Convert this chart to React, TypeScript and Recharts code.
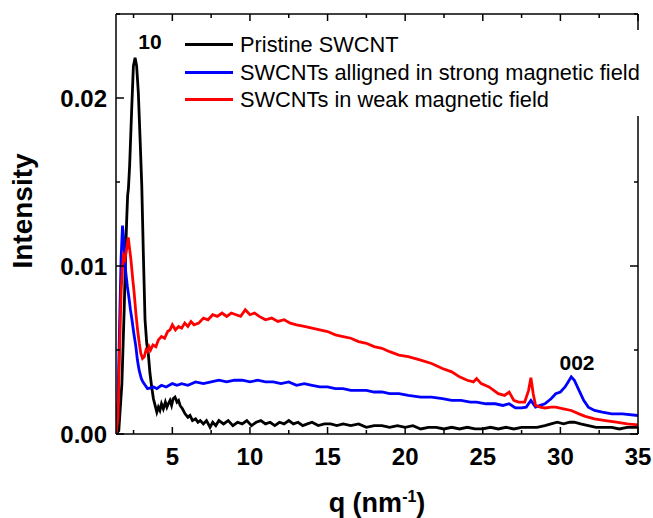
import React from 'react';
import { LineChart, Line, XAxis, YAxis, Legend, ReferenceDot, Label } from 'recharts';

const pristineQ = [1.37, 1.55, 1.75, 1.9, 2.0, 2.06, 2.12, 2.17, 2.25, 2.38, 2.49, 2.6, 2.7, 2.81, 2.92, 3.03, 3.13, 3.24, 3.35, 3.45, 3.56, 3.67, 3.78, 3.89, 4.0, 4.1, 4.2, 4.3, 4.42, 4.55, 4.65, 4.74, 4.85, 4.95, 5.05, 5.17, 5.3, 5.4, 5.5, 5.65, 5.82, 6.0, 6.14, 6.3, 6.5, 6.65, 6.8, 7.0, 7.2, 7.43, 7.6, 7.8, 8.0, 8.3, 8.6, 8.9, 9.2, 9.5, 9.8, 10.1, 10.4, 10.7, 11.0, 11.3, 11.6, 11.9, 12.2, 12.5, 12.8, 13.1, 13.4, 13.7, 14.0, 14.4, 14.8, 15.2, 15.6, 16.0, 16.5, 17.0, 17.5, 18.0, 18.5, 19.0, 19.5, 20.0, 20.5, 21.0, 21.5, 22.0, 22.5, 23.0, 23.5, 24.0, 24.5, 25.0, 25.5, 26.0, 26.5, 27.0, 27.5, 28.0, 28.5, 29.0, 29.4, 29.8, 30.2, 30.6, 30.9, 31.3, 31.8, 32.3, 32.8, 33.3, 33.8, 34.3, 35.0];
const pristineI = [0.0, 0.0002, 0.003, 0.0075, 0.011, 0.0128, 0.0142, 0.0146, 0.016, 0.0193, 0.0219, 0.0224, 0.0219, 0.0203, 0.0176, 0.0148, 0.0108, 0.0068, 0.0054, 0.0048, 0.0036, 0.0028, 0.0021, 0.0017, 0.0013, 0.0016, 0.0014, 0.0018, 0.0015, 0.0019, 0.0016, 0.0018, 0.002, 0.0017, 0.0021, 0.0022, 0.0019, 0.002, 0.0017, 0.0015, 0.0012, 0.001, 0.0011, 0.0008, 0.0009, 0.0007, 0.0008, 0.0006, 0.0008, 0.0004, 0.0007, 0.0005, 0.0008, 0.0006, 0.0008, 0.0005, 0.0007, 0.0006, 0.0008, 0.0005, 0.0007, 0.0008, 0.0006, 0.0007, 0.0005, 0.0007, 0.0006, 0.0008, 0.0006, 0.0007, 0.0005, 0.0006, 0.0007, 0.0005, 0.0006, 0.0006, 0.0005, 0.0006, 0.0005, 0.0006, 0.0004, 0.0005, 0.0005, 0.0004, 0.0005, 0.0004, 0.0005, 0.0003, 0.0004, 0.0004, 0.0003, 0.0004, 0.0003, 0.0004, 0.0003, 0.0003, 0.0004, 0.0003, 0.0004, 0.0003, 0.0004, 0.0004, 0.0004, 0.0005, 0.0006, 0.0007, 0.0006, 0.0007, 0.0007, 0.0006, 0.0005, 0.0004, 0.0004, 0.0004, 0.0003, 0.0004, 0.0004];

const strongQ = [1.37, 1.5, 1.6, 1.7, 1.79, 1.85, 1.92, 2.0, 2.1, 2.22, 2.3, 2.4, 2.5, 2.65, 2.75, 2.86, 3.0, 3.1, 3.25, 3.4, 3.6, 3.8, 4.0, 4.3, 4.6, 5.0, 5.3, 5.6, 6.0, 6.5, 7.0, 7.5, 8.0, 8.5, 9.0, 9.5, 10.0, 10.5, 11.0, 11.5, 12.0, 12.5, 13.0, 13.5, 14.0, 14.5, 15.0, 15.5, 16.0, 16.5, 17.0, 17.5, 18.0, 18.5, 19.0, 19.6, 20.2, 21.0, 21.7, 22.4, 23.0, 23.6, 24.2, 24.6, 25.2, 25.8, 26.3, 26.7, 27.1, 27.5, 27.8, 28.1, 28.4, 28.7, 29.0, 29.4, 29.7, 30.0, 30.3, 30.5, 30.7, 30.9, 31.2, 31.5, 31.8, 32.2, 32.7, 33.3, 34.0, 35.0];
const strongI = [0.0, 0.002, 0.0065, 0.0105, 0.0124, 0.0118, 0.0108, 0.0096, 0.0088, 0.008, 0.0074, 0.0068, 0.0061, 0.0052, 0.0044, 0.0038, 0.0033, 0.0031, 0.0029, 0.0027, 0.00275, 0.0028, 0.0027, 0.0029, 0.0028, 0.003, 0.0029, 0.003, 0.0029, 0.0031, 0.003, 0.0031, 0.0032, 0.0031, 0.0032, 0.0032, 0.0031, 0.0032, 0.0031, 0.0031, 0.003, 0.0031, 0.0029, 0.003, 0.0029, 0.0028, 0.0028, 0.0027, 0.0027, 0.0026, 0.0026, 0.0026, 0.0025, 0.0025, 0.0024, 0.0024, 0.0023, 0.0022, 0.0022, 0.0021, 0.002, 0.002, 0.0019, 0.0019, 0.0018, 0.0018, 0.0017, 0.0018, 0.00155, 0.00155, 0.0016, 0.002, 0.0016, 0.0017, 0.0018, 0.0021, 0.0024, 0.0025, 0.0028, 0.0031, 0.0034, 0.0032, 0.0026, 0.002, 0.0016, 0.0014, 0.0013, 0.0012, 0.0012, 0.0011];

const weakQ = [1.37, 1.5, 1.6, 1.7, 1.78, 1.85, 1.95, 2.05, 2.16, 2.25, 2.33, 2.45, 2.54, 2.65, 2.76, 2.87, 2.97, 3.08, 3.19, 3.3, 3.4, 3.5, 3.6, 3.75, 3.94, 4.1, 4.3, 4.5, 4.7, 4.85, 5.0, 5.2, 5.4, 5.6, 5.8, 6.0, 6.2, 6.4, 6.7, 7.0, 7.3, 7.6, 7.9, 8.2, 8.5, 8.8, 9.1, 9.4, 9.7, 10.0, 10.3, 10.6, 11.0, 11.4, 11.8, 12.2, 12.6, 13.0, 13.5, 14.0, 14.5, 15.0, 15.5, 16.0, 16.5, 17.0, 17.5, 18.0, 18.5, 19.0, 19.6, 20.2, 21.0, 21.7, 22.4, 23.0, 23.5, 24.0, 24.4, 24.6, 24.9, 25.4, 26.0, 26.4, 26.7, 27.0, 27.3, 27.7, 27.95, 28.1, 28.25, 28.4, 28.7, 29.0, 29.4, 29.7, 30.2, 30.7, 31.2, 31.6, 32.2, 32.9, 33.6, 34.3, 35.0];
const weakI = [0.0, 0.001, 0.005, 0.0085, 0.0098, 0.0106, 0.0104, 0.011, 0.0117, 0.011, 0.0104, 0.0092, 0.0084, 0.0072, 0.0062, 0.0054, 0.0048, 0.0045, 0.0046, 0.005, 0.0049, 0.0052, 0.005, 0.0053, 0.0052, 0.0056, 0.0058, 0.0057, 0.0061, 0.0062, 0.0065, 0.0062, 0.0064, 0.0063, 0.0066, 0.0064, 0.0067, 0.0065, 0.0066, 0.0069, 0.0068, 0.0071, 0.007, 0.0072, 0.007, 0.0072, 0.0071, 0.007, 0.0074, 0.0071, 0.0072, 0.007, 0.0068, 0.0069, 0.0067, 0.0068, 0.0066, 0.0065, 0.0064, 0.0063, 0.0062, 0.0061, 0.0059, 0.0058, 0.0057, 0.0055, 0.0054, 0.0052, 0.0051, 0.0049, 0.0047, 0.0046, 0.0044, 0.0042, 0.0039, 0.0037, 0.0034, 0.0032, 0.0031, 0.0033, 0.003, 0.0028, 0.0024, 0.0023, 0.0025, 0.002, 0.0019, 0.0019, 0.0026, 0.00335, 0.0024, 0.0017, 0.0016, 0.00155, 0.0016, 0.0016, 0.0015, 0.0014, 0.0012, 0.00105, 0.0009, 0.0008, 0.0007, 0.0006, 0.00054];

const seriesNames = ['Pristine SWCNT', 'SWCNTs alligned in strong magnetic field', 'SWCNTs in weak magnetic field'];
const seriesColors = ['#000000', '#0000ff', '#ff0000'];

const xTicks = [2.5, 5, 7.5, 10, 12.5, 15, 17.5, 20, 22.5, 25, 27.5, 30, 32.5, 35];
const yTicks = [0, 0.005, 0.01, 0.015, 0.02, 0.025];
const xDomain = [1.37, 35];
const yDomain = [0, 0.025];

const peakLabels = [
  { q: 3.56, i: 0.02336, text: '10' },
  { q: 31.07, i: 0.00426, text: '002' },
];

const zip = (qs: number[], is: number[]) => qs.map((q, k) => ({ q, i: is[k] }));
const seriesData = [zip(pristineQ, pristineI), zip(strongQ, strongI), zip(weakQ, weakI)];

const FONT = "Arial, 'Liberation Sans', sans-serif";

const isMajorX = (v: number) => Math.abs(v / 5 - Math.round(v / 5)) < 1e-6;
const isMajorY = (v: number) => Math.abs(v / 0.01 - Math.round(v / 0.01)) < 1e-6;

const BottomTick = (props: any) => {
  const { x, y, payload } = props;
  const major = isMajorX(payload.value);
  return (
    <g>
      <line x1={x} x2={x} y1={y} y2={y - (major ? 7 : 4)} stroke="#000" strokeWidth={1.5} />
      {major && (
        <text x={x} y={y + 31} textAnchor="middle" fontFamily={FONT} fontWeight="bold" fontSize={24} fill="#000">
          {payload.value}
        </text>
      )}
    </g>
  );
};

const TopTick = (props: any) => {
  const { x, y, payload } = props;
  const major = isMajorX(payload.value);
  return <line x1={x} x2={x} y1={y} y2={y + (major ? 7 : 4)} stroke="#000" strokeWidth={1.5} />;
};

const LeftTick = (props: any) => {
  const { x, y, payload } = props;
  const major = isMajorY(payload.value);
  return (
    <g>
      <line x1={x} x2={x + (major ? 8 : 4)} y1={y} y2={y} stroke="#000" strokeWidth={1.5} />
      {major && (
        <text x={x - 9} y={y + 8.5} textAnchor="end" fontFamily={FONT} fontWeight="bold" fontSize={24} fill="#000">
          {payload.value.toFixed(2)}
        </text>
      )}
    </g>
  );
};

const RightTick = (props: any) => {
  const { x, y, payload } = props;
  const major = isMajorY(payload.value);
  return <line x1={x} x2={x - (major ? 8 : 4)} y1={y} y2={y} stroke="#000" strokeWidth={1.5} />;
};

const XTitle = (props: any) => {
  const vb = props.viewBox;
  return (
    <text x={vb.x + vb.width / 2} y={vb.y + 78} textAnchor="middle" fontFamily={FONT} fontWeight="bold" fontSize={27} fill="#000">
      q (nm
      <tspan fontSize={16} dy={-10}>-1</tspan>
      <tspan dy={10}>)</tspan>
    </text>
  );
};

const YTitle = (props: any) => {
  const vb = props.viewBox;
  const cx = vb.x - 24;
  const cy = vb.y + 197;
  return (
    <text x={cx} y={cy} transform={`rotate(-90, ${cx}, ${cy})`} textAnchor="middle" fontFamily={FONT} fontWeight="bold" fontSize={28} fill="#000">
      Intensity
    </text>
  );
};

const renderLegend = (props: any) => {
  const payload = (props.payload || []).filter((p: any) => p.type !== 'none');
  return (
    <div style={{ fontFamily: FONT, background: '#fff', height: 86, paddingTop: 1, paddingLeft: 3, boxSizing: 'border-box' }}>
      {payload.map((p: any, k: number) => (
        <div key={k} style={{ display: 'flex', alignItems: 'center', height: 27.5 }}>
          <span style={{ display: 'inline-block', width: 48, height: 3, background: p.color, marginRight: 7 }} />
          <span style={{ fontSize: 21.8, color: '#000', lineHeight: '27.5px', whiteSpace: 'nowrap' }}>{p.value}</span>
        </div>
      ))}
    </div>
  );
};

export default function App() {
  return (
    <div style={{ position: 'absolute', left: 0, top: 0, background: '#fff' }}>
      <LineChart width={653} height={518} margin={{ top: 13, right: 14, bottom: 44, left: 56 }}>
        <XAxis
          xAxisId="b"
          type="number"
          dataKey="q"
          domain={xDomain}
          allowDataOverflow
          ticks={xTicks}
          interval={0}
          tickSize={0}
          tickMargin={0}
          tick={<BottomTick />}
          axisLine={{ stroke: '#000', strokeWidth: 1.5 }}
          tickLine={false}
          height={40}
        >
          <Label content={<XTitle />} />
        </XAxis>
        <XAxis
          xAxisId="t"
          orientation="top"
          type="number"
          dataKey="q"
          domain={xDomain}
          allowDataOverflow
          ticks={xTicks}
          interval={0}
          tickSize={0}
          tickMargin={0}
          tick={<TopTick />}
          axisLine={{ stroke: '#000', strokeWidth: 1.5 }}
          tickLine={false}
          height={1}
        />
        <YAxis
          yAxisId="l"
          type="number"
          domain={yDomain}
          allowDataOverflow
          ticks={yTicks}
          interval={0}
          tickSize={0}
          tickMargin={0}
          tick={<LeftTick />}
          axisLine={{ stroke: '#000', strokeWidth: 1.5 }}
          tickLine={false}
          width={60}
        >
          <Label content={<YTitle />} />
        </YAxis>
        <YAxis
          yAxisId="r"
          orientation="right"
          type="number"
          domain={yDomain}
          allowDataOverflow
          ticks={yTicks}
          interval={0}
          tickSize={0}
          tickMargin={0}
          tick={<RightTick />}
          axisLine={{ stroke: '#000', strokeWidth: 1.5 }}
          tickLine={false}
          width={1}
        />
        <Line
          xAxisId="t"
          yAxisId="r"
          data={seriesData[0]}
          dataKey="i"
          stroke="none"
          strokeWidth={0}
          dot={false}
          activeDot={false}
          legendType="none"
          isAnimationActive={false}
        />
        {seriesData.map((d, k) => (
          <Line
            key={seriesNames[k]}
            xAxisId="b"
            yAxisId="l"
            data={d}
            dataKey="i"
            name={seriesNames[k]}
            stroke={seriesColors[k]}
            strokeWidth={2.8}
            dot={false}
            activeDot={false}
            type="linear"
            isAnimationActive={false}
          />
        ))}
        {peakLabels.map((p) => (
          <ReferenceDot
            key={p.text}
            xAxisId="b"
            yAxisId="l"
            x={p.q}
            y={p.i}
            r={0}
            ifOverflow="visible"
            label={{ value: p.text, position: 'center', fontFamily: FONT, fontWeight: 'bold', fontSize: 21, fill: '#000' }}
          />
        ))}
        <Legend
          layout="vertical"
          verticalAlign="middle"
          align="center"
          content={renderLegend}
          wrapperStyle={{ position: 'absolute', left: 182, top: 30, width: 463, height: 86 }}
        />
      </LineChart>
    </div>
  );
}
